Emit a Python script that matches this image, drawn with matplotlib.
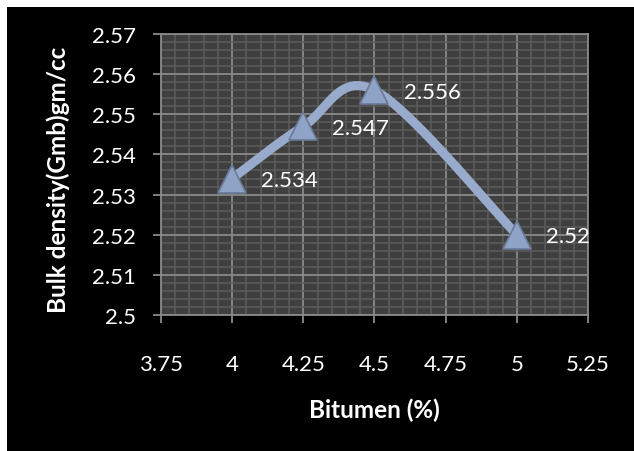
import numpy as np
import matplotlib.pyplot as plt
from matplotlib.ticker import MultipleLocator, FixedLocator

bitumen = [4.0, 4.25, 4.5, 5.0]
density = [2.534, 2.547, 2.556, 2.52]
labels = ["2.534", "2.547", "2.556", "2.52"]
x_ticks = [3.75, 4.0, 4.25, 4.5, 4.75, 5.0, 5.25]
x_tick_labels = ["3.75", "4", "4.25", "4.5", "4.75", "5", "5.25"]
y_ticks = [2.50, 2.51, 2.52, 2.53, 2.54, 2.55, 2.56, 2.57]
y_tick_labels = ["2.5", "2.51", "2.52", "2.53", "2.54", "2.55", "2.56", "2.57"]


def smooth_curve(xs, ys, n=60):
    # spreadsheet-style smoothed line: cubic Bezier through each pair of points
    p = np.column_stack([xs, ys])
    p = np.vstack([p[0], p, p[-1]])
    out = []
    for i in range(1, len(p) - 2):
        p0, p1, p2, p3 = p[i - 1], p[i], p[i + 1], p[i + 2]
        c1 = p1 + (p2 - p0) / 6
        c2 = p2 - (p3 - p1) / 6
        t = np.linspace(0, 1, n)[:, None]
        seg = ((1 - t) ** 3) * p1 + 3 * ((1 - t) ** 2) * t * c1 \
            + 3 * (1 - t) * t ** 2 * c2 + t ** 3 * p2
        out.append(seg)
    out = np.vstack(out)
    return out[:, 0], out[:, 1]


plt.rcParams['font.family'] = ['Lato', 'DejaVu Sans']

W, H = 634, 452
fig = plt.figure(figsize=(W / 100, H / 100), dpi=100, facecolor='white')
# black chart area, white strip at top and left
fig.patches.append(plt.Rectangle((7 / W, -0.05), 1.1, 1.05 - 8 / H, transform=fig.transFigure,
                                 facecolor='black', edgecolor='none', zorder=-1))

ax = fig.add_axes([161 / W, 1 - 316 / H, (588 - 161) / W, (316 - 35) / H])
ax.set_facecolor('#3f3f3f')
ax.set_xlim(3.75, 5.25)
ax.set_ylim(2.50, 2.57)

ax.xaxis.set_major_locator(FixedLocator(x_ticks))
ax.set_xticklabels(x_tick_labels)
ax.yaxis.set_major_locator(FixedLocator(y_ticks))
ax.set_yticklabels(y_tick_labels)
ax.xaxis.set_minor_locator(MultipleLocator(0.05))
ax.yaxis.set_minor_locator(MultipleLocator(0.002))

ax.grid(which='minor', color='#5c5c5c', linewidth=1.1)
ax.grid(which='major', color='#8a8a8a', linewidth=1.3)
ax.set_axisbelow(True)

for s in ax.spines.values():
    s.set_color('#8a8a8a')
    s.set_linewidth(1.3)

ax.tick_params(which='major', direction='out', length=6, width=1.3, color='#8a8a8a',
               labelcolor='white', labelsize=16)
ax.tick_params(axis='x', which='major', pad=22)
ax.tick_params(axis='y', which='major', pad=12)
ax.tick_params(which='minor', length=0)

sx, sy = smooth_curve(bitumen, density)
ax.plot(sx, sy, color='#98abcc', linewidth=6.5, solid_capstyle='round', zorder=3)
ax.plot(bitumen, density, linestyle='none', marker='^', markersize=20,
        markerfacecolor='#8fa3c7', markeredgecolor='#6a7a98', markeredgewidth=1.2,
        zorder=4, clip_on=False)

for x, y, t in zip(bitumen, density, labels):
    ax.annotate(t, (x, y), xytext=(21, -1), textcoords='offset points',
                ha='left', va='center', color='white', fontsize=16, zorder=5,
                annotation_clip=False)

fig.text(374 / W, 1 - 410 / H, "Bitumen (%)", ha='center', va='center',
         color='white', fontsize=17.5, fontweight='bold')
fig.text(58 / W, 1 - 180 / H, "Bulk density(Gmb)gm/cc", ha='center', va='center',
         rotation=90, color='white', fontsize=17.5, fontweight='bold')

fig.savefig('out.png', dpi=100, facecolor='white')
